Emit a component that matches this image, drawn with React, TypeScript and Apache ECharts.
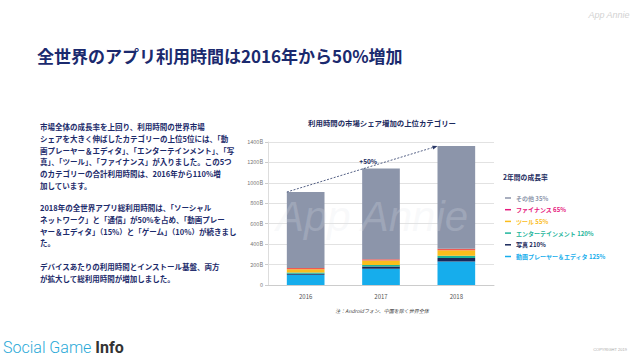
import React, { useEffect, useRef } from "react";
import * as echarts from "echarts";

const years = ["2016", "2017", "2018"];
// billions of hours
const video = [100, 160, 230];
const photo = [11, 22, 34];
const entertainment = [10.5, 15, 23];
const tools = [33.5, 43, 52];
const finance = [10.5, 13, 17];
const other = [745, 887, 1004];

const yTicks = [0, 200, 400, 600, 800, 1000, 1200, 1400];

const seriesNames = ["動画プレーヤー＆エディタ", "写真", "エンターテインメント", "ツール", "ファイナンス", "その他"];
const seriesData = [video, photo, entertainment, tools, finance, other];
const seriesColors = ["#16adec", "#18285a", "#1fb59c", "#fbbd1c", "#ef5a52", "#8c95aa"];
const legendColors = ["#16adec", "#18285a", "#1fb59c", "#fbbd1c", "#e6197d", "#8c95aa"];
const growth = ["125%", "210%", "120%", "55%", "65%", "35%"];
const legendOrder = [5, 4, 3, 2, 1, 0];

const para1 = [
  "市場全体の成長率を上回り、利用時間の世界市場",
  "シェアを大きく伸ばしたカテゴリーの上位5位には、「動",
  "画プレーヤー＆エディタ」、「エンターテインメント」、「写",
  "真」、「ツール」、「ファイナンス」が入りました。この5つ",
  "のカテゴリーの合計利用時間は、2016年から110%増",
  "加しています。",
];
const para2 = [
  "2018年の全世界アプリ総利用時間は、「ソーシャル",
  "ネットワーク」と「通信」が50%を占め、「動画プレー",
  "ヤー＆エディタ」（15%）と「ゲーム」（10%）が続きまし",
  "た。",
];
const para3 = [
  "デバイスあたりの利用時間とインストール基盤、両方",
  "が拡大して総利用時間が増加しました。",
];

const FONT = "'Noto Sans CJK JP', 'Noto Sans', sans-serif";
const NAVY = "#1c2b6b";

export default function App() {
  const ref = useRef<HTMLDivElement>(null);
  useEffect(() => {
    if (!ref.current) return;
    const chart = echarts.init(ref.current, undefined, { renderer: "svg" });
    const totals = years.map((_, i) => seriesData.reduce((s, d) => s + d[i], 0));

    chart.setOption({
      animation: false,
      backgroundColor: "#ffffff",
      textStyle: { fontFamily: FONT },
      title: {
        text: "利用時間の市場シェア増加の上位カテゴリー",
        left: 377,
        top: 114,
        textAlign: "center",
        textStyle: { fontSize: 7.4, fontWeight: "bold", color: "#1b2a5e", fontFamily: FONT },
      },
      grid: { left: 268, right: 146, top: 142, bottom: 75, containLabel: false },
      xAxis: {
        type: "category",
        data: years,
        axisLine: { show: true, lineStyle: { color: "#cccccc", width: 1 } },
        axisTick: { show: false },
        axisLabel: { fontSize: 6, color: "#555555", margin: 8, fontFamily: FONT },
      },
      yAxis: {
        type: "value",
        min: 0,
        max: yTicks[yTicks.length - 1],
        interval: 200,
        axisLine: { show: true, lineStyle: { color: "#dddddd" } },
        axisTick: { show: true, length: 3, lineStyle: { color: "#cccccc" } },
        axisLabel: {
          fontSize: 5.5,
          color: "#777777",
          margin: 5,
          fontFamily: FONT,
          formatter: (v: number) => (v === 0 ? "0" : v + "B"),
        },
        splitLine: { lineStyle: { color: "#e2e2e2", width: 1 } },
      },
      legend: {
        orient: "vertical",
        left: 500,
        top: 189,
        itemWidth: 6,
        itemHeight: 1.5,
        itemGap: 3.7,
        icon: "rect",
        selectedMode: false,
        formatter: (name: string) => {
          const i = seriesNames.indexOf(name);
          return name + " " + growth[i];
        },
        textStyle: { fontSize: 6, fontWeight: "bold", lineHeight: 8, fontFamily: FONT },
        data: legendOrder.map((i) => ({
          name: seriesNames[i],
          itemStyle: { color: legendColors[i] },
          textStyle: { color: legendColors[i] },
        })),
      },
      series: seriesNames.map((name, i) => ({
        name,
        type: "bar",
        stack: "total",
        barWidth: "50%",
        data: seriesData[i],
        itemStyle: { color: seriesColors[i] },
      })),
    });

    const p1 = chart.convertToPixel({ xAxisIndex: 0, yAxisIndex: 0 }, [0, totals[0]]) as number[];
    const p2 = chart.convertToPixel({ xAxisIndex: 0, yAxisIndex: 0 }, [2, totals[2]]) as number[];
    const c0 = chart.convertToPixel({ xAxisIndex: 0, yAxisIndex: 0 }, [0, 0]) as number[];
    const c1 = chart.convertToPixel({ xAxisIndex: 0, yAxisIndex: 0 }, [1, 0]) as number[];
    const half = (c1[0] - c0[0]) * 0.25;
    const x1 = p1[0] - half, y1 = p1[1], x2 = p2[0] - half, y2 = p2[1];
    const ang = Math.atan2(y2 - y1, x2 - x1);
    const ah = 5, aw = 2;
    const bx = x2 - ah * Math.cos(ang), by = y2 - ah * Math.sin(ang);
    const px = -Math.sin(ang) * aw, py = Math.cos(ang) * aw;
    const mx = (x1 + x2) / 2, my = (y1 + y2) / 2;

    const lineH = 11.7;
    const para = (lines: string[], top: number) => ({
      type: "text",
      left: 40,
      top,
      style: {
        text: lines.join("\n"),
        fontSize: 7.5,
        lineHeight: lineH,
        fontWeight: "bold",
        fontFamily: FONT,
        fill: NAVY,
      },
    });

    chart.setOption({
      graphic: [
        {
          type: "text",
          x: 37,
          y: 55,
          style: {
            text: "全世界のアプリ利用時間は2016年から50%増加",
            fontSize: 17,
            fontWeight: "bold",
            fontFamily: FONT,
            fill: "#1b2a6e",
            textVerticalAlign: "middle",
          },
        },
        {
          type: "text",
          x: 609,
          y: 15,
          style: {
            text: "App Annie",
            fontSize: 9,
            fontStyle: "italic",
            fontFamily: "'Liberation Sans', sans-serif",
            fill: "#d2d2d2",
            textAlign: "center",
            textVerticalAlign: "middle",
          },
        },
        para(para1, 121),
        para(para2, 202),
        para(para3, 261),
        {
          type: "line",
          z: 50,
          shape: { x1, y1, x2: bx, y2: by },
          style: { stroke: "#2a3866", lineWidth: 0.8, lineDash: [2, 1.5] },
        },
        {
          type: "polygon",
          z: 50,
          shape: { points: [[x2, y2], [bx + px, by + py], [bx - px, by - py]] },
          style: { fill: "#2a3866" },
        },
        {
          type: "text",
          z: 50,
          x: mx + 6,
          y: my - 8,
          style: {
            text: "+50%",
            fontSize: 6.5,
            fontWeight: "bold",
            fontFamily: FONT,
            fill: "#1b2a5e",
            textAlign: "center",
            textVerticalAlign: "middle",
          },
        },
        {
          type: "text",
          x: 503,
          y: 177,
          style: {
            text: "2年間の成長率",
            fontSize: 6.8,
            fontWeight: "bold",
            fontFamily: FONT,
            fill: "#1b2a5e",
            textVerticalAlign: "middle",
          },
        },
        {
          type: "text",
          z: 40,
          x: 372,
          y: 216,
          style: {
            text: "App Annie",
            fontSize: 42,
            fontStyle: "italic",
            fontFamily: "'Liberation Sans', sans-serif",
            fill: "rgba(225,228,235,0.22)",
            textAlign: "center",
            textVerticalAlign: "middle",
          },
        },
        {
          type: "text",
          x: 382,
          y: 310,
          style: {
            text: "注：Androidフォン、中国を除く世界全体",
            fontSize: 5,
            fontStyle: "italic",
            fontFamily: FONT,
            fill: "#444444",
            textAlign: "center",
            textVerticalAlign: "middle",
          },
        },
        {
          type: "text",
          x: 3,
          y: 347,
          style: {
            text: "{a|Social Game }{b|Info}",
            textVerticalAlign: "middle",
            rich: {
              a: { fontSize: 16, fontFamily: "Roboto, 'Liberation Sans', sans-serif", fontWeight: 300, fill: "#2aa9d8", color: "#2aa9d8" },
              b: { fontSize: 16, fontFamily: "Roboto, 'Liberation Sans', sans-serif", fontWeight: "bold", fill: "#333333", color: "#333333" },
            },
          },
        },
        {
          type: "text",
          x: 610,
          y: 349,
          style: {
            text: "COPYRIGHT 2019",
            fontSize: 4,
            fontFamily: "'Liberation Sans', sans-serif",
            fill: "#aaaaaa",
            textAlign: "center",
            textVerticalAlign: "middle",
          },
        },
      ],
    });

    return () => chart.dispose();
  }, []);

  return (
    <div
      ref={ref}
      style={{ position: "fixed", left: 0, top: 0, width: 640, height: 360, background: "#ffffff" }}
    />
  );
}
